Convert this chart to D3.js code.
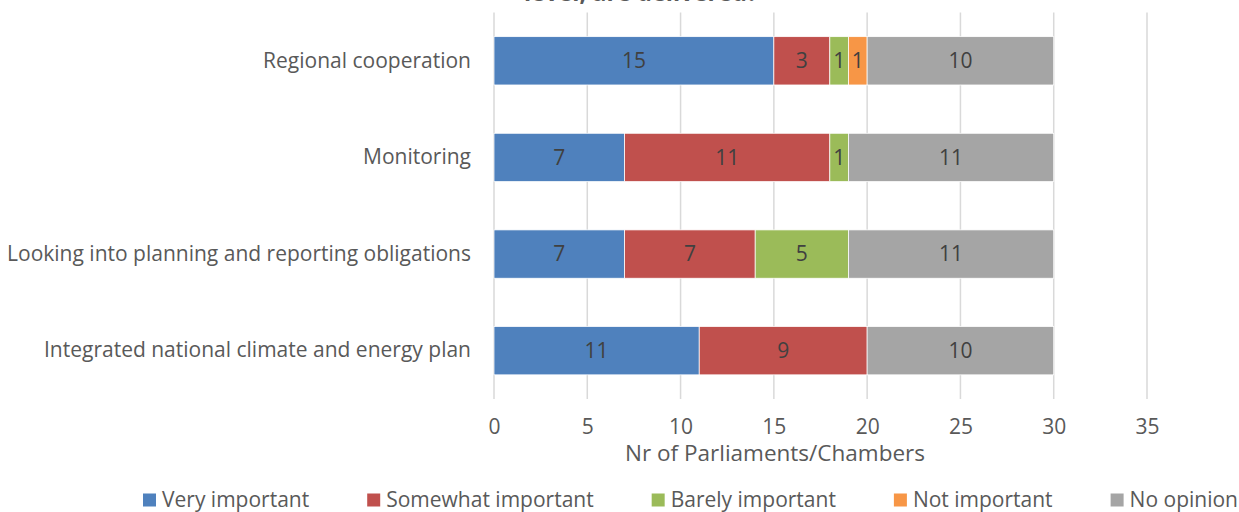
<!DOCTYPE html>
<html>
<head>
<meta charset="utf-8">
<script src="https://cdn.jsdelivr.net/npm/d3@7"></script>
<style>
  body { margin: 0; background: #fff; }
  text { font-family: "Open Sans", sans-serif; }
</style>
</head>
<body>
<div id="chart"></div>
<script>
// categories, top to bottom
var categories = [
    "Regional cooperation",
    "Monitoring",
    "Looking into planning and reporting obligations",
    "Integrated national climate and energy plan"
];
var seriesNames = ["Very important", "Somewhat important", "Barely important", "Not important", "No opinion"];
var seriesColors = ["#4f81bd", "#c0504d", "#9bbb59", "#f79646", "#a5a5a5"];

// values per series, same order as categories
var veryImportant     = [15, 7, 7, 11];
var somewhatImportant = [3, 11, 7, 9];
var barelyImportant   = [1, 1, 5, 0];
var notImportant      = [1, 0, 0, 0];
var noOpinion         = [10, 11, 11, 10];

var xTicks = [0, 5, 10, 15, 20, 25, 30, 35];

var width = 1239, height = 512;
var margin = { left: 494, right: 92, top: 12.5, bottom: 113 };
var fs = 21;

var svg = d3.select("#chart").append("svg")
    .attr("width", width)
    .attr("height", height);

var x = d3.scaleLinear()
    .domain([0, 35])
    .range([margin.left, width - margin.right]);

var y = d3.scaleBand()
    .domain(categories)
    .range([margin.top, height - margin.bottom])
    .paddingInner(0.5)
    .paddingOuter(0.25);

// title, mostly cut off at the top in the source
svg.append("text")
    .attr("x", 641)
    .attr("y", 1)
    .attr("text-anchor", "middle")
    .attr("font-size", 23.5)
    .attr("font-weight", "bold")
    .attr("fill", "#595959")
    .text("level, are delivered?");

// gridlines
svg.append("g").selectAll("line")
    .data(xTicks)
    .enter().append("line")
    .attr("x1", d => x(d))
    .attr("x2", d => x(d))
    .attr("y1", margin.top)
    .attr("y2", height - margin.bottom)
    .attr("stroke", "#d9d9d9")
    .attr("stroke-width", 1.5);

// stack the series
var rows = categories.map(function(c, i) {
    return {
        cat: c,
        s0: veryImportant[i],
        s1: somewhatImportant[i],
        s2: barelyImportant[i],
        s3: notImportant[i],
        s4: noOpinion[i]
    };
});
var stack = d3.stack().keys(["s0", "s1", "s2", "s3", "s4"]);
var layers = stack(rows);

var groups = svg.selectAll(".layer")
    .data(layers)
    .enter().append("g")
    .attr("class", "layer")
    .attr("fill", (d, i) => seriesColors[i]);

groups.selectAll("rect")
    .data(d => d.filter(p => p[1] - p[0] > 0))
    .enter().append("rect")
    .attr("x", d => x(d[0]))
    .attr("width", d => x(d[1]) - x(d[0]))
    .attr("y", d => y(d.data.cat))
    .attr("height", y.bandwidth())
    .attr("stroke", "#fff")
    .attr("stroke-width", 0.75);

groups.selectAll("text")
    .data(d => d.filter(p => p[1] - p[0] > 0))
    .enter().append("text")
    .attr("x", d => (x(d[0]) + x(d[1])) / 2)
    .attr("y", d => y(d.data.cat) + y.bandwidth() / 2)
    .attr("dy", "0.35em")
    .attr("text-anchor", "middle")
    .attr("font-size", fs)
    .attr("fill", "#404040")
    .text(d => d[1] - d[0]);

// category axis
var yAxis = svg.append("g")
    .attr("transform", "translate(" + (margin.left - 23) + ",0)")
    .call(d3.axisLeft(y).tickSize(0).tickPadding(0));
yAxis.select(".domain").remove();
yAxis.selectAll("text")
    .attr("font-size", fs)
    .attr("font-family", "Open Sans, sans-serif")
    .attr("fill", "#595959");

// value axis
var xAxis = svg.append("g")
    .attr("transform", "translate(0," + (height - margin.bottom) + ")")
    .call(d3.axisBottom(x).tickValues(xTicks).tickSize(0).tickPadding(20));
xAxis.select(".domain").remove();
xAxis.selectAll("text")
    .attr("font-size", fs)
    .attr("font-family", "Open Sans, sans-serif")
    .attr("fill", "#595959");

svg.append("text")
    .attr("x", 775)
    .attr("y", 461)
    .attr("text-anchor", "middle")
    .attr("font-size", 22.5)
    .attr("fill", "#595959")
    .text("Nr of Parliaments/Chambers");

// legend
var legend = svg.append("g").attr("transform", "translate(0,500)");
var lx = 143;
seriesNames.forEach(function(name, i) {
    var item = legend.append("g").attr("transform", "translate(" + lx + ",0)");
    item.append("rect")
        .attr("x", 0).attr("y", -6.5)
        .attr("width", 13).attr("height", 13)
        .attr("fill", seriesColors[i]);
    var t = item.append("text")
        .attr("x", 19)
        .attr("dy", "0.35em")
        .attr("font-size", fs)
        .attr("fill", "#595959")
        .text(name);
    lx += 19 + t.node().getComputedTextLength() + 58;
});
</script>
</body>
</html>
